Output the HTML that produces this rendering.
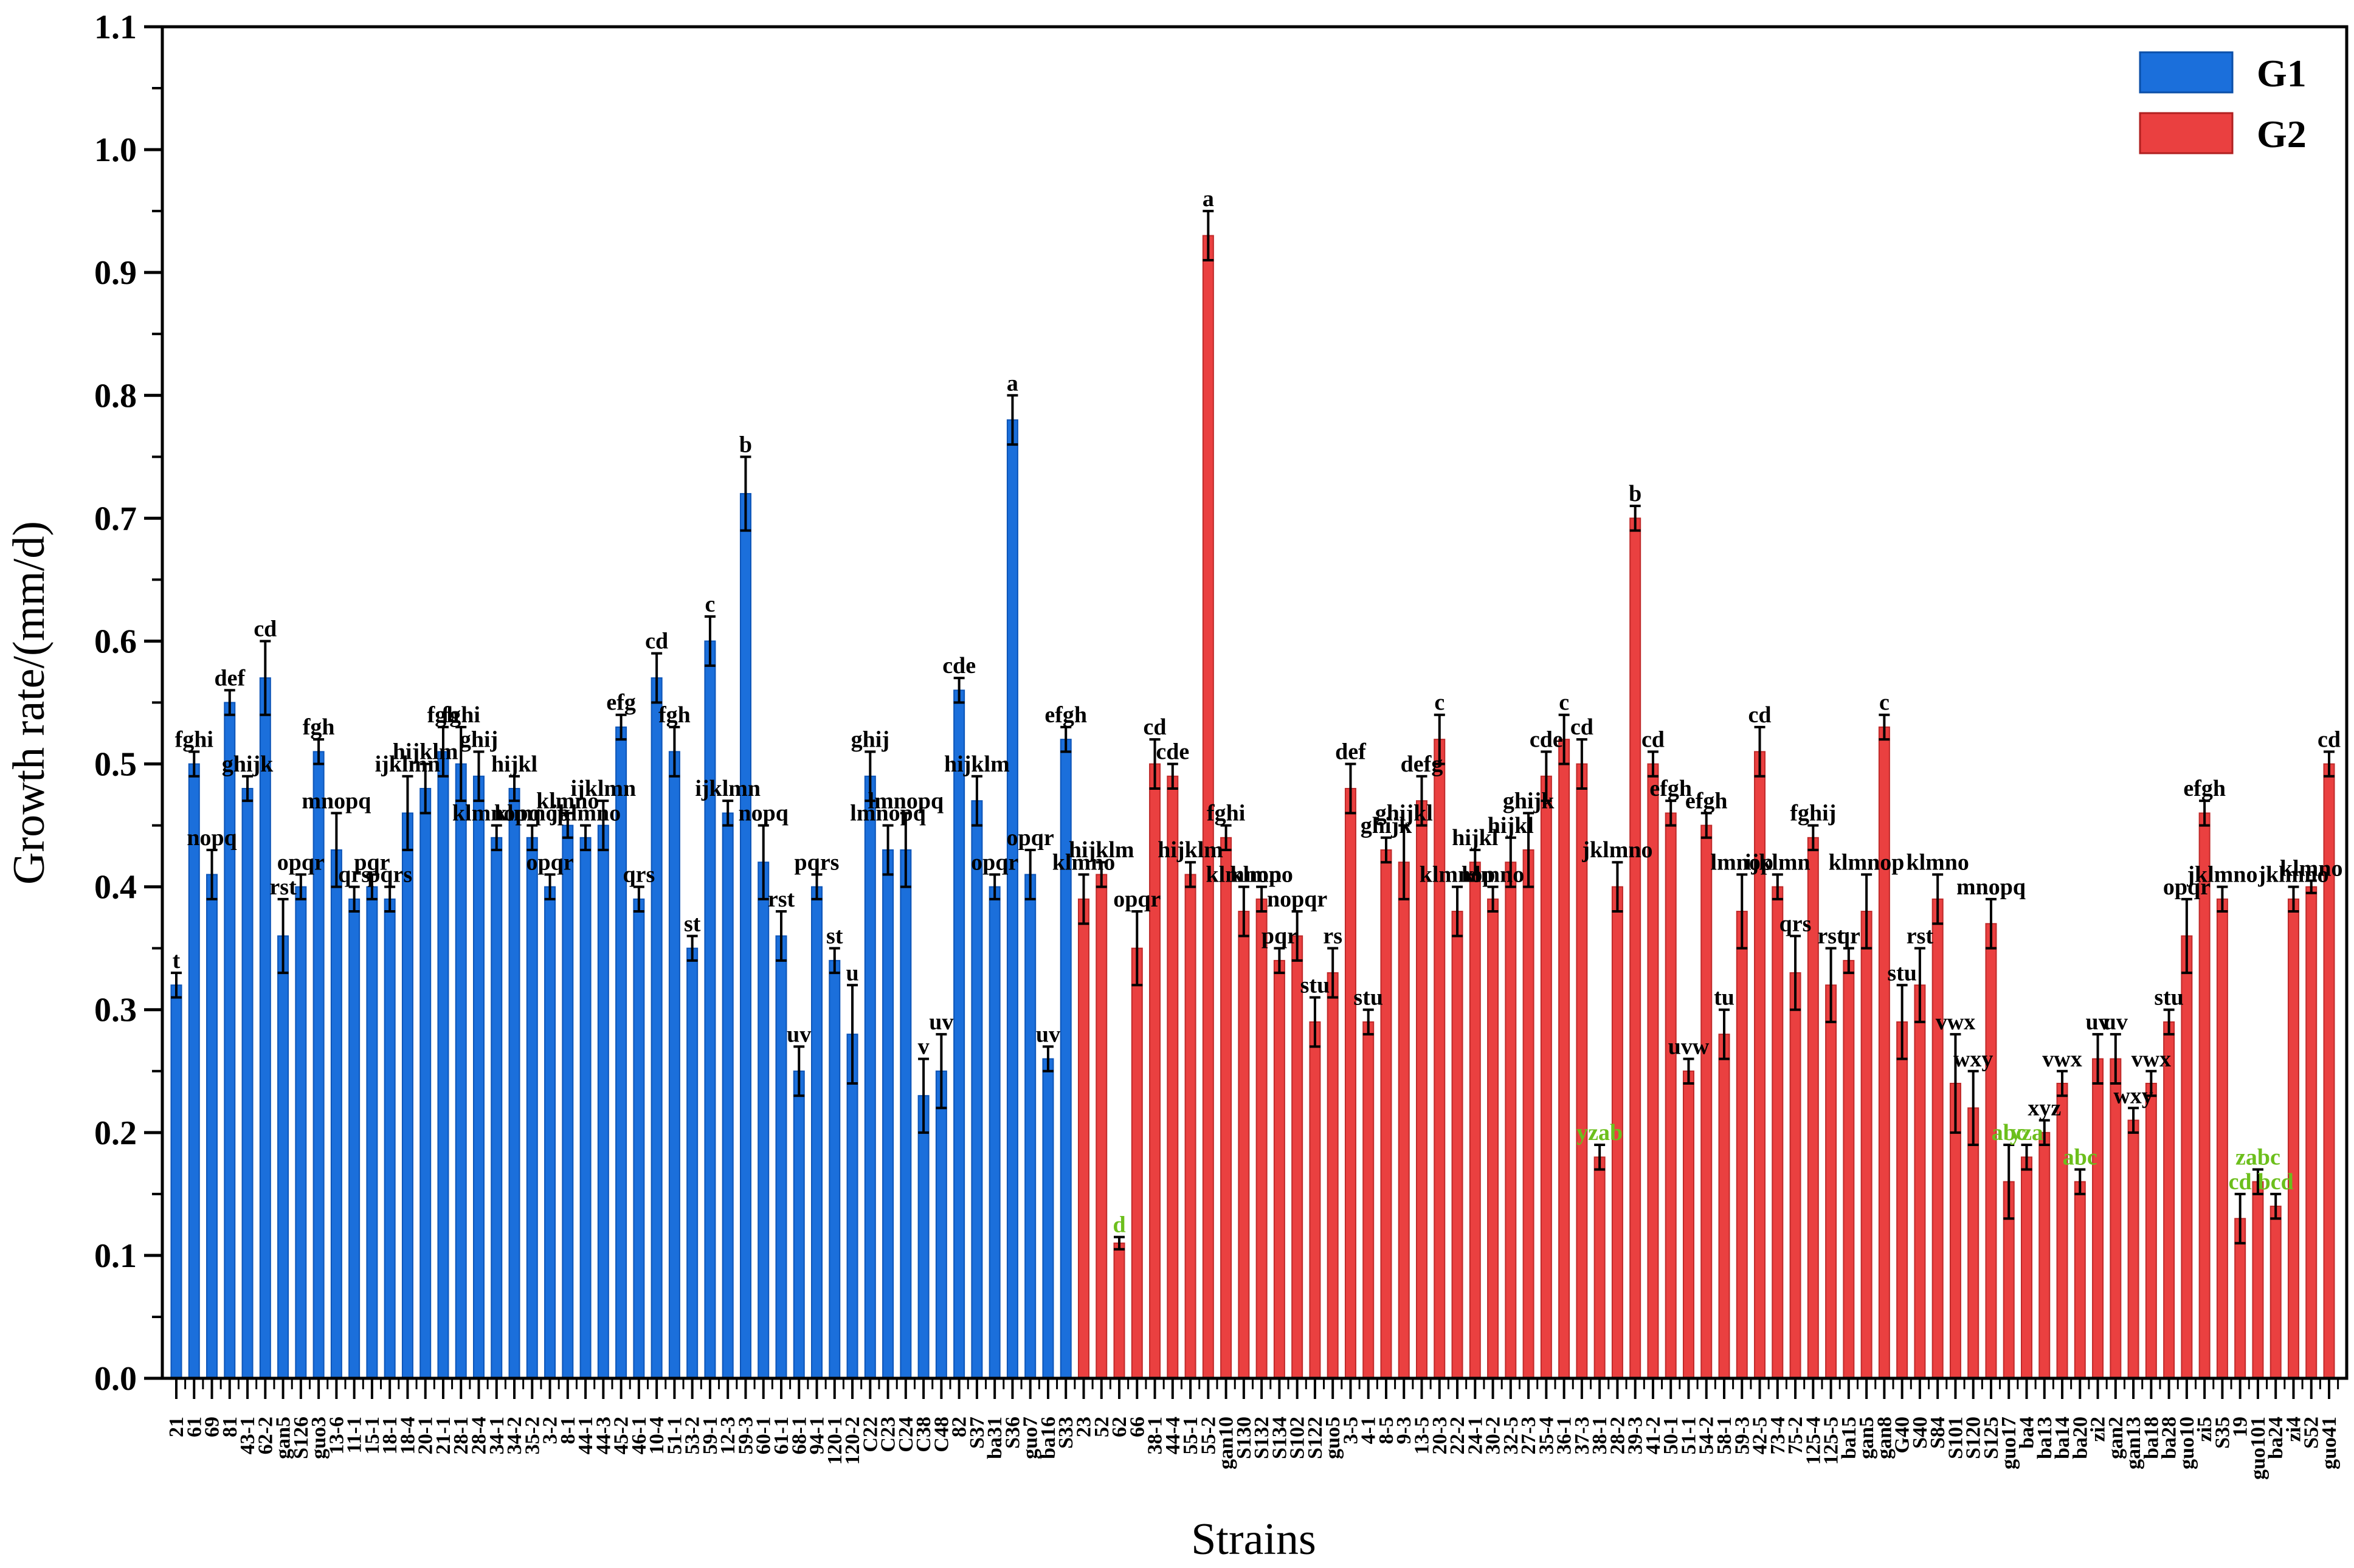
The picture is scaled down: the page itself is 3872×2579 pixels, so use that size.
<!DOCTYPE html>
<html><head><meta charset="utf-8"><style>
html,body{margin:0;padding:0;background:#fff;}
svg{display:block;font-family:"Liberation Serif",serif;}
</style></head><body>
<svg id="chart" width="3872" height="2579" viewBox="0 0 3872 2579" xmlns="http://www.w3.org/2000/svg">
<rect x="0" y="0" width="3872" height="2579" fill="#fff"/>
<g id="bars"></g>
<g id="errs"></g>
<g id="letters"></g>
<g id="axes"></g>
<text x="0" y="0" transform="translate(72,1156) rotate(-90)" text-anchor="middle" font-size="74">Growth rate/(mm/d)</text>
<text x="2062" y="2556" text-anchor="middle" font-size="74">Strains</text>
<g>
<rect x="3520" y="86" width="152" height="66" fill="#1b6fdb" stroke="#0b4fa8" stroke-width="3"/>
<text x="3712" y="142" font-size="64" font-weight="bold">G1</text>
<rect x="3520" y="186" width="152" height="66" fill="#ea4040" stroke="#b02020" stroke-width="3"/>
<text x="3712" y="242" font-size="64" font-weight="bold">G2</text>
</g>
</svg>
<script>
const strains = ["21","61","69","81","43-1","62-2","gan5","S126","guo3","13-6","11-1","15-1","18-1","18-4","20-1","21-1","28-1","28-4","34-1","34-2","35-2","3-2","8-1","44-1","44-3","45-2","46-1","10-4","51-1","53-2","59-1","12-3","59-3","60-1","61-1","68-1","94-1","120-1","120-2","C22","C23","C24","C38","C48","82","S37","ba31","S36","guo7","ba16","S33",
"23","52","62","66","38-1","44-4","55-1","55-2","gan10","S130","S132","S134","S102","S122","guo5","3-5","4-1","8-5","9-3","13-5","20-3","22-2","24-1","30-2","32-5","27-3","35-4","36-1","37-3","38-1","28-2","39-3","41-2","50-1","51-1","54-2","58-1","59-3","42-5","73-4","75-2","125-4","125-5","ba15","gan5","gan8","G40","S40","S84","S101","S120","S125","guo17","ba4","ba13","ba14","ba20","zi2","gan2","gan13","ba18","ba28","guo10","zi5","S35","19","guo101","ba24","zi4","S52","guo41"];
const groups = [51, 71];
const values = [0.32,0.50,0.41,0.55,0.48,0.57,0.36,0.40,0.51,0.43,0.39,0.40,0.39,0.46,0.48,0.51,0.50,0.49,0.44,0.48,0.44,0.40,0.45,0.44,0.45,0.53,0.39,0.57,0.51,0.35,
0.60,0.46,0.72,0.42,0.36,0.25,0.40,0.34,0.28,0.49,0.43,0.43,0.23,0.25,0.56,0.47,0.40,0.78,0.41,0.26,0.52,
0.39,0.41,0.11,0.35,0.50,0.49,0.41,0.93,0.44,
0.38,0.39,0.34,0.36,0.29,0.33,0.48,0.29,0.43,0.42,0.47,0.52,0.38,0.42,0.39,0.42,0.43,0.49,0.52,0.50,0.18,0.40,0.70,0.50,0.46,0.25,0.45,0.28,0.38,0.51,0.40,
0.33,0.44,0.32,0.34,0.38,0.53,0.29,0.32,0.39,0.24,0.22,0.37,0.16,0.18,0.20,0.24,0.16,0.26,0.26,0.21,0.24,0.29,0.36,0.46,0.39,0.13,0.16,0.14,0.39,0.40,0.50];
const errors = [0.01,0.01,0.02,0.01,0.01,0.03,0.03,0.01,0.01,0.03,0.01,0.01,0.01,0.03,0.02,0.02,0.03,0.02,0.01,0.01,0.01,0.01,0.01,0.01,0.02,0.01,0.01,0.02,0.02,0.01,
0.02,0.01,0.03,0.03,0.02,0.02,0.01,0.01,0.04,0.02,0.02,0.03,0.03,0.03,0.01,0.02,0.01,0.02,0.02,0.01,0.01,
0.02,0.01,0.005,0.03,0.02,0.01,0.01,0.02,0.01,
0.02,0.01,0.01,0.02,0.02,0.02,0.02,0.01,0.01,0.03,0.02,0.02,0.02,0.01,0.01,0.02,0.03,0.02,0.02,0.02,0.01,0.02,0.01,0.01,0.01,0.01,0.01,0.02,0.03,0.02,0.01,
0.03,0.01,0.03,0.01,0.03,0.01,0.03,0.03,0.02,0.04,0.03,0.02,0.03,0.01,0.01,0.01,0.01,0.02,0.02,0.01,0.01,0.01,0.03,0.01,0.01,0.02,0.01,0.01,0.01,0.005,0.01];
const letters = ["t","fghi","nopq","def","ghijk","cd","rst","opqr","fgh","mnopq","qrs","pqr","pqrs","ijklmn","hijklm","fgh","fghi","ghij","klmnopq","hijkl","klmnop","opqr","klmno","jklmno","ijklmn","efg","qrs","cd","fgh","st",
"c","ijklmn","b","nopq","rst","uv","pqrs","st","u","ghij","lmnopq","lmnopq","v","uv","cde","hijklm","opqr","a","opqr","uv","efgh",
"klmno","hijklm","d","opqr","cd","cde","hijklm","a","fghi",
"klmnop","klmno","pqr","nopqr","stu","rs","def","stu","ghijk","ghijkl","defg","c","klmnop","hijkl","klmno","hijkl","ghijk","cde","c","cd","yzab","jklmno","b","cd","efgh","uvw","efgh","tu","lmnop","cd","ijklmn",
"qrs","fghij","rst","qr","klmnop","c","stu","rst","klmno","vwx","wxy","mnopq","abc","yza","xyz","vwx","abc","uv","uv","wxy","vwx","stu","opqr","efgh","jklmno","cd","zabc","bcd","jklmno","klmno","cd"];
const greenLetters = ["d","yzab","abc","yza","zabc","cd","bcd"];
const yTicks = ["0.0","0.1","0.2","0.3","0.4","0.5","0.6","0.7","0.8","0.9","1.0","1.1"];

const NS = "http://www.w3.org/2000/svg";
const X0 = 267, X1 = 3860, Y0 = 2267, Ytop = 44;
const yMax = 1.1;
const step = (3831 - 290) / 121;
function xPos(i){ return 290 + i * step; }
function yPos(v){ return Y0 - v / yMax * (Y0 - Ytop); }
function mk(tag, attrs, parent){
  const e = document.createElementNS(NS, tag);
  for (const k in attrs) e.setAttribute(k, attrs[k]);
  parent.appendChild(e);
  return e;
}
const gBars = document.getElementById('bars');
const gErr = document.getElementById('errs');
const gLet = document.getElementById('letters');
const gAx = document.getElementById('axes');
const bw = 17;
values.forEach((v, i) => {
  const isG1 = i < groups[0];
  const cx = xPos(i);
  const r = mk('rect', {x: cx - bw/2, y: yPos(v), width: bw, height: Y0 - yPos(v),
    fill: isG1 ? '#1b6fdb' : '#ea4040', stroke: isG1 ? '#0d55b8' : '#c02a2a', 'stroke-width': 2}, gBars);
  
  
  const e = errors[i];
  const yt = yPos(v + e), yb = yPos(v - e);
  const p = mk('path', {d: `M${cx},${yt}V${yb}M${cx-9},${yt}H${cx+9}M${cx-9},${yb}H${cx+9}`,
    stroke: '#000', 'stroke-width': 4, fill: 'none'}, gErr);
  
  
  const t = mk('text', {x: cx, y: yt - 8, 'text-anchor': 'middle', 'font-size': 38, 'font-weight': 'bold',
    fill: (greenLetters.includes(letters[i]) && v < 0.2) ? '#6cbf1c' : '#000'}, gLet);
  t.textContent = letters[i];
  
  
  mk('line', {x1: cx, y1: Y0, x2: cx, y2: Y0 + 34, stroke: '#000', 'stroke-width': 4}, gAx);
  mk('line', {x1: cx + step/2, y1: Y0, x2: cx + step/2, y2: Y0 + 18, stroke: '#000', 'stroke-width': 3}, gAx);
  const lb = mk('text', {x: 0, y: 0, transform: `translate(${cx + 11},2330) rotate(-90)`, 'text-anchor': 'end',
    'font-size': 34, 'font-weight': 'bold'}, gAx);
  lb.textContent = strains[i];
  
  
});
const fr = mk('rect', {x: X0, y: Ytop, width: X1 - X0, height: Y0 - Ytop, fill: 'none', stroke: '#000', 'stroke-width': 5}, gAx);


yTicks.forEach((lab, k) => {
  const v = parseFloat(lab);
  const y = yPos(v);
  mk('line', {x1: X0 - 30, y1: y, x2: X0, y2: y, stroke: '#000', 'stroke-width': 5}, gAx);
  if (k < yTicks.length - 1) {
    const ym = yPos(v + 0.05);
    mk('line', {x1: X0 - 17, y1: ym, x2: X0, y2: ym, stroke: '#000', 'stroke-width': 4}, gAx);
  }
  const t = mk('text', {x: X0 - 42, y: y + 19, 'text-anchor': 'end', 'font-size': 56, 'font-weight': 'bold'}, gAx);
  t.textContent = lab;
  
  
});
</script>
</body></html>
